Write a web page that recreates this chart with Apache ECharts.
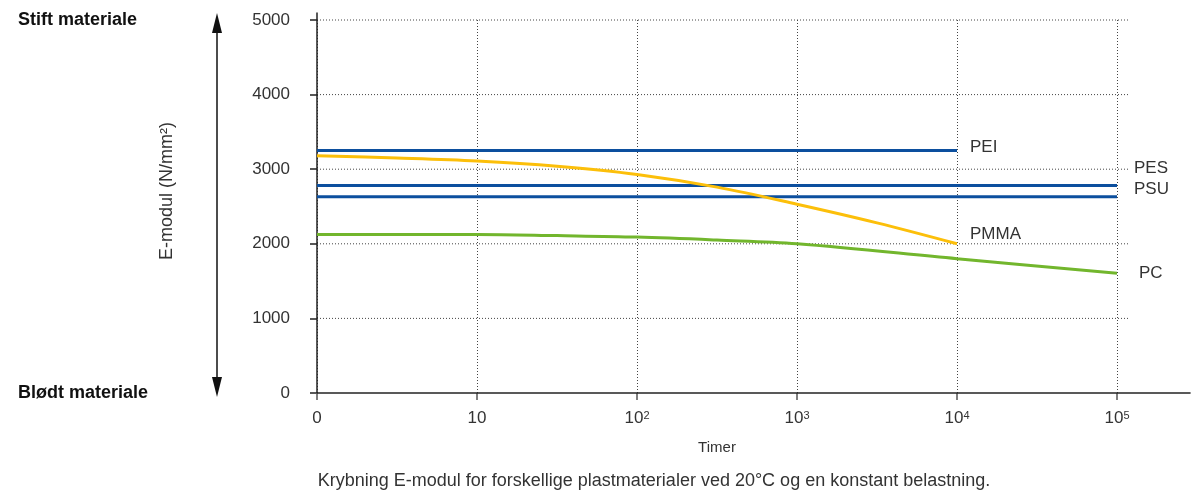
<!DOCTYPE html>
<html>
<head>
<meta charset="utf-8">
<script src="https://cdn.jsdelivr.net/npm/echarts@6/dist/echarts.min.js"></script>
<style>
  html, body { margin: 0; padding: 0; background: #fff; }
  #chart { width: 1195px; height: 493px; }
</style>
</head>
<body>
<div id="chart"></div>
<script>
const FONT = '"Liberation Sans", Arial, Helvetica, sans-serif';

// Time axis in decades: 0 -> 0 h, 1 -> 10 h, 2 -> 10^2 h, ...
const xTicks = [0, 1, 2, 3, 4, 5];
const xTickBase = ['0', '10', '10', '10', '10', '10'];
const xTickExp = ['', '', '2', '3', '4', '5'];
const yTicks = [0, 1000, 2000, 3000, 4000, 5000];

// E-modulus (N/mm²) per material
const peiX = [0, 4];
const peiY = [3250, 3250];
const pesX = [0, 5];
const pesY = [2780, 2780];
const psuX = [0, 5];
const psuY = [2630, 2630];
const pmmaX = [0, 0.5, 1, 1.5, 2, 2.5, 3, 3.5, 4];
const pmmaY = [3180, 3150, 3110, 3040, 2930, 2760, 2530, 2280, 2000];
const pcX = [0, 1, 1.5, 2, 2.5, 3, 4, 5];
const pcY = [2125, 2125, 2110, 2090, 2050, 2000, 1800, 1605];

const zip = (xs, ys) => xs.map((x, i) => [x, ys[i]]);

const BLUE = '#0c4f9e';
const YELLOW = '#fcbf0a';
const GREEN = '#72b62d';
const TEXT = '#333';
const DOTS = '#444';

// how far the horizontal grid and the axis lines run past the last decade
const GRID_END_X = 5.07;
const AXIS_END_X = 5.46;
const AXIS_END_Y = 5100;

function materialSeries(name, xs, ys, color, offset, smooth) {
  return {
    name: name,
    type: 'line',
    data: zip(xs, ys),
    smooth: smooth ? 0.35 : false,
    symbol: 'none',
    lineStyle: { color: color, width: 3 },
    itemStyle: { color: color },
    endLabel: {
      show: true,
      formatter: p => p.seriesName,
      color: TEXT,
      fontSize: 17,
      fontFamily: FONT,
      distance: 0,
      offset: offset
    },
    z: 5
  };
}

const baseGraphic = [
  {
    type: 'text', x: 18, y: 20,
    style: { text: 'Stift materiale', font: 'bold 18px ' + FONT, fill: '#111', verticalAlign: 'middle' }
  },
  {
    type: 'text', x: 18, y: 393,
    style: { text: 'Blødt materiale', font: 'bold 18px ' + FONT, fill: '#111', verticalAlign: 'middle' }
  },
  {
    type: 'line',
    shape: { x1: 217, y1: 30, x2: 217, y2: 380 },
    style: { stroke: '#111', lineWidth: 1.5 }
  },
  {
    type: 'polygon',
    shape: { points: [[217, 13], [212, 33], [222, 33]] },
    style: { fill: '#111' }
  },
  {
    type: 'polygon',
    shape: { points: [[217, 397], [212, 377], [222, 377]] },
    style: { fill: '#111' }
  },
  {
    type: 'text', x: 167, y: 191, rotation: Math.PI / 2,
    style: { text: 'E-modul (N/mm²)', font: '18px ' + FONT, fill: TEXT, align: 'center', verticalAlign: 'middle' }
  },
  {
    type: 'text', x: 654, y: 481,
    style: {
      text: 'Krybning E-modul for forskellige plastmaterialer ved 20°C og en konstant belastning.',
      font: '18px ' + FONT, fill: TEXT, align: 'center', verticalAlign: 'middle'
    }
  }
];

const option = {
  animation: false,
  textStyle: { fontFamily: FONT },
  grid: { left: 317, top: 20, width: 800, height: 373 },
  xAxis: {
    type: 'value',
    min: 0,
    max: 5,
    interval: 1,
    axisLine: { show: false },
    axisTick: { show: true, length: 7, lineStyle: { color: '#555', width: 1.5 } },
    axisLabel: {
      margin: 17,
      color: TEXT,
      fontSize: 17,
      formatter: v => {
        const i = xTicks.indexOf(v);
        if (i < 0) return '';
        return xTickExp[i] ? xTickBase[i] + '{sup|' + xTickExp[i] + '}' : xTickBase[i];
      },
      rich: {
        sup: { fontSize: 11, color: TEXT, verticalAlign: 'top', lineHeight: 12, padding: [0, 0, 7, 0] }
      }
    },
    splitLine: { show: true, lineStyle: { color: DOTS, type: [1, 2], width: 1 } },
    name: 'Timer',
    nameLocation: 'middle',
    nameGap: 47,
    nameTextStyle: { fontSize: 15, color: TEXT }
  },
  yAxis: {
    type: 'value',
    min: 0,
    max: 5000,
    interval: 1000,
    axisLine: { show: false },
    axisTick: { show: true, length: 7, lineStyle: { color: '#222', width: 1.5 } },
    axisLabel: { margin: 27, fontSize: 17, color: TEXT, formatter: v => String(v) },
    splitLine: { show: false }
  },
  series: [
    materialSeries('PEI', peiX, peiY, BLUE, [13, -3], false),
    materialSeries('PES', pesX, pesY, BLUE, [17, -17], false),
    materialSeries('PSU', psuX, psuY, BLUE, [17, -7], false),
    materialSeries('PMMA', pmmaX, pmmaY, YELLOW, [13, -9], true),
    materialSeries('PC', pcX, pcY, GREEN, [22, 0], true)
  ],
  graphic: baseGraphic
};

const chart = echarts.init(document.getElementById('chart'), null, { renderer: 'canvas' });
chart.setOption(option);

// Horizontal dotted grid and the solid axis lines run slightly past the plot
// area, so they are placed through the axis scales after layout.
const px = (x, y) => chart.convertToPixel({ gridIndex: 0 }, [x, y]);
const segment = (a, b, style, z) => ({
  type: 'line',
  silent: true,
  z: z,
  shape: { x1: a[0], y1: a[1], x2: b[0], y2: b[1] },
  style: style
});

const gridLines = yTicks.filter(v => v > 0).map(v =>
  segment(px(0, v), px(GRID_END_X, v), { stroke: DOTS, lineWidth: 1, lineDash: [1, 2] }, 1)
);
const axisLines = [
  segment(px(0, 0), px(AXIS_END_X, 0), { stroke: '#222', lineWidth: 1.5 }, 3),
  segment(px(0, 0), px(0, AXIS_END_Y), { stroke: '#222', lineWidth: 1.5 }, 3)
];

chart.setOption({ graphic: baseGraphic.concat(gridLines, axisLines) });
</script>
</body>
</html>
